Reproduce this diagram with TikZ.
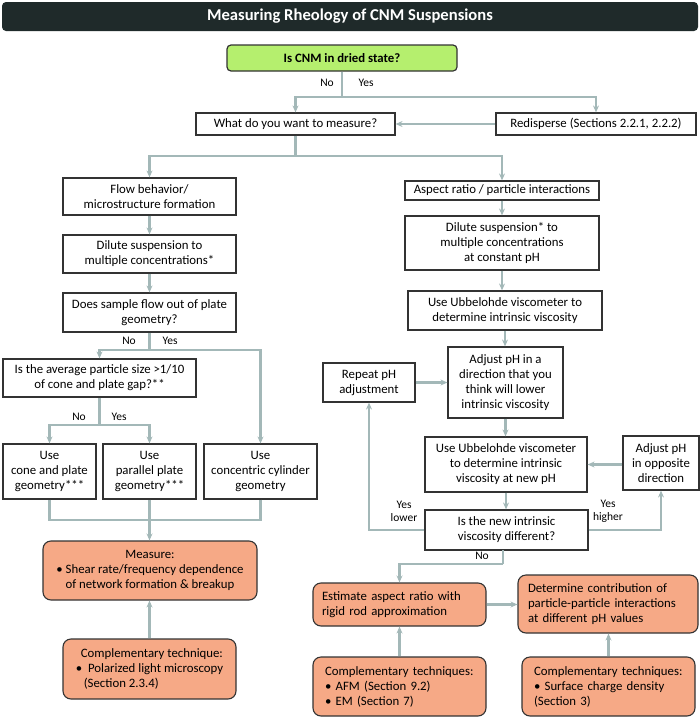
\documentclass[tikz,border=0pt]{standalone}
\usepackage{fontspec}
\setmainfont{Carlito}
\usetikzlibrary{arrows.meta,positioning}
\definecolor{conn}{HTML}{A3B8B8}
\definecolor{bord}{HTML}{333333}
\definecolor{orangef}{HTML}{F6A986}
\definecolor{greenf}{HTML}{B5EF6E}
\definecolor{titlef}{HTML}{1F2A2A}
\tikzset{
  wbox/.style={draw=bord, line width=1.2pt, fill=white, align=center, inner sep=0pt,
    font=\fontsize{12.8}{15}\selectfont},
  obox/.style={draw=bord, line width=1.1pt, fill=orangef, rounded corners=8pt, inner sep=0pt,
    font=\fontsize{12.8}{15}\selectfont},
  line/.style={draw=conn, line width=2.2pt},
  arr/.style={line, -{Stealth[length=7pt,width=6pt,inset=2.5pt]}},
  lbl/.style={font=\fontsize{11.5}{13}\selectfont, inner sep=0pt, align=center}
}
\begin{document}
\begin{tikzpicture}[x=1pt,y=-1pt]
\useasboundingbox (0,0) rectangle (700,718);
% title
\node[fill=titlef, rounded corners=4pt, minimum width=696, minimum height=29, inner sep=0pt,
  text=white, font=\fontsize{16.6}{18}\selectfont\bfseries] (title) at (350,16.5) {Measuring Rheology of CNM Suspensions};
% top
\node[draw=bord, line width=1.2pt, fill=greenf, rounded corners=4pt, minimum width=230, minimum height=26,
  inner sep=0pt, font=\fontsize{12.8}{15}\selectfont\bfseries] (q1) at (342,58) {Is CNM in dried state?};
\node[wbox, minimum width=199, minimum height=22] (what) at (295.5,124) {What do you want to measure?};
\node[wbox, minimum width=200, minimum height=22] (redis) at (596,124) {Redisperse (Sections 2.2.1, 2.2.2)};
% left branch
\node[wbox, minimum width=173, minimum height=37] (flow) at (149.5,196.5) {Flow behavior/\\microstructure formation};
\node[wbox, minimum width=173, minimum height=38] (dil1) at (149.5,254) {Dilute suspension to\\multiple concentrations*};
\node[wbox, minimum width=173, minimum height=39] (does) at (149.5,312.5) {Does sample flow out of plate\\geometry?};
\node[wbox, minimum width=193, minimum height=38] (avg) at (99.5,378) {Is the average particle size >1/10\\of cone and plate gap?**};
\node[wbox, minimum width=93, minimum height=55] (cone) at (49.5,471.5) {Use\\cone and plate\\geometry***};
\node[wbox, minimum width=93, minimum height=55] (par) at (149.5,471.5) {Use\\parallel plate\\geometry***};
\node[wbox, minimum width=113, minimum height=55] (conc) at (260.5,471.5) {Use\\concentric cylinder\\geometry};
\node[obox, minimum width=214, minimum height=59, align=center] (meas) at (150,570.5)
  {Measure:\\\textbullet\ Shear rate/frequency dependence\\of network formation \& breakup};
\node[obox, minimum width=173, minimum height=60, align=left] (comp1) at (149.5,669)
  {\hspace{5pt}Complementary technique:\\\textbullet\ \ Polarized light microscopy\\\hspace{8pt}(Section 2.3.4)};
% right branch
\node[wbox, minimum width=194, minimum height=19] (aspect) at (502,190.5) {Aspect ratio / particle interactions};
\node[wbox, minimum width=194, minimum height=54] (dil2) at (502,243) {Dilute suspension* to\\multiple concentrations\\at constant pH};
\node[wbox, minimum width=194, minimum height=39] (ubb) at (505,310.5) {Use Ubbelohde viscometer to\\determine intrinsic viscosity};
\node[wbox, minimum width=115, minimum height=71] (adj) at (505.5,382.5) {Adjust pH in a\\direction that you\\think will lower\\intrinsic viscosity};
\node[wbox, minimum width=92, minimum height=39] (rep) at (369,382.5) {Repeat pH\\adjustment};
\node[wbox, minimum width=162, minimum height=55] (ubb2) at (506,464.5) {Use Ubbelohde viscometer\\to determine intrinsic\\viscosity at new pH};
\node[wbox, minimum width=76, minimum height=54] (opp) at (661,463) {Adjust pH\\in opposite\\direction};
\node[wbox, minimum width=163, minimum height=40] (isnew) at (506.5,530) {Is the new intrinsic\\viscosity different?};
\node[obox, minimum width=173, minimum height=43, text width=155, align=left] (est) at (399.5,604.5)
  {Estimate aspect ratio with\\rigid rod approximation};
\node[obox, minimum width=180, minimum height=58, text width=160, align=left] (det) at (608,604)
  {Determine contribution of\\particle-particle interactions\\at different pH values};
\node[obox, minimum width=173, minimum height=59, text width=149, align=left] (comp2) at (399.5,686.5)
  {Complementary techniques:\\\textbullet\ AFM (Section 9.2)\\\textbullet\ EM (Section 7)};
\node[obox, minimum width=173, minimum height=59, text width=149, align=left] (comp3) at (608.5,686.5)
  {Complementary techniques:\\\textbullet\ Surface charge density\\(Section 3)};
% junctions
\coordinate (j1) at (342,97);
\coordinate (j2) at (295.5,156);
\coordinate (j3) at (149.5,350);
\coordinate (j4) at (99.5,425);
\coordinate (j5) at (149.5,520);
\coordinate (j6) at (503,564);
\coordinate (j7) at (503,550);
% connectors
\draw[line] (q1.south) -- (j1);
\draw[arr] (j1) -| (what.north);
\draw[arr] (j1) -| (redis.north);
\draw[arr] (redis.west) -- (what.east);
\draw[line] (what.south) -- (j2);
\draw[arr] (j2) -| (flow.north);
\draw[arr] (j2) -| (aspect.north);
\draw[arr] (flow.south) -- (dil1.north);
\draw[arr] (dil1.south) -- (does.north);
\draw[line] (does.south) -- (j3);
\draw[arr] (j3) -| (avg.north);
\draw[arr] (j3) -| (conc.north);
\draw[line] (avg.south) -- (j4);
\draw[arr] (j4) -| (cone.north);
\draw[arr] (j4) -| (par.north);
\draw[line] (cone.south) |- (j5);
\draw[line] (conc.south) |- (j5);
\draw[arr] (par.south) -- (par.south |- meas.north);
\draw[arr] (comp1.north) -- (comp1.north |- meas.south);
\draw[arr] (aspect.south) -- (aspect.south |- dil2.north);
\draw[arr] (dil2.south) -- (dil2.south |- ubb.north);
\draw[arr] (ubb.south) -- (ubb.south |- adj.north);
\draw[arr] (adj.south) -- (adj.south |- ubb2.north);
\draw[arr] (ubb2.south) -- (ubb2.south |- isnew.north);
\draw[arr] (rep.east) -- (rep.east -| adj.west);
\draw[arr] (opp.west |- ubb2.east) -- (ubb2.east);
\draw[arr] (isnew.west) -| (rep.south);
\draw[arr] (isnew.east) -| (opp.south);
\draw[line] (j7) -- (j6);
\draw[arr] (j6) -| (est.north);
\draw[arr] (est.east) -- (est.east -| det.west);
\draw[arr] (comp2.north) -- (comp2.north |- est.south);
\draw[arr] (comp3.north) -- (comp3.north |- det.south);
% labels
\node[lbl] (l1) at (327,83) {No};
\node[lbl] (l2) at (366,83) {Yes};
\node[lbl] (l3) at (129,341) {No};
\node[lbl] (l4) at (170,341) {Yes};
\node[lbl] (l5) at (79,417) {No};
\node[lbl] (l6) at (119,417) {Yes};
\node[lbl] (l7) at (404,511) {Yes\\lower};
\node[lbl] (l8) at (608,511) {Yes\\higher};
\node[lbl] (l9) at (482,556) {No};
\end{tikzpicture}
\end{document}
